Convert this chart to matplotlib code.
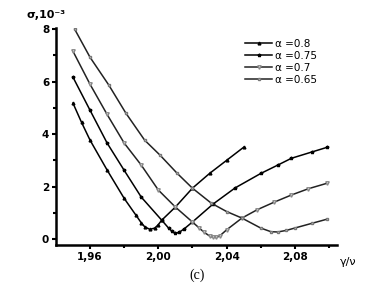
import matplotlib
matplotlib.use("Agg")
import matplotlib.pyplot as plt
from matplotlib.ticker import MultipleLocator

# data (x = gamma/nu, y = sigma in 1e-3)
x_08 = [1.950, 1.955, 1.960, 1.970, 1.980, 1.987, 1.990, 1.992, 1.995, 1.998, 2.000, 2.002,
        2.010, 2.020, 2.030, 2.040, 2.050]
y_08 = [5.18, 4.45, 3.77, 2.63, 1.55, 0.90, 0.62, 0.47, 0.37, 0.42, 0.55, 0.72,
        1.22, 1.94, 2.50, 3.00, 3.50]

x_075 = [1.950, 1.960, 1.970, 1.980, 1.990, 2.002, 2.006, 2.008, 2.010, 2.012, 2.015, 2.020,
         2.032, 2.045, 2.060, 2.070, 2.078, 2.090, 2.099]
y_075 = [6.17, 4.91, 3.66, 2.62, 1.60, 0.72, 0.42, 0.30, 0.22, 0.25, 0.38, 0.65,
         1.33, 1.95, 2.50, 2.82, 3.08, 3.32, 3.50]

x_07 = [1.950, 1.960, 1.970, 1.980, 1.990, 2.000, 2.010, 2.020, 2.024, 2.027, 2.030, 2.032,
        2.034, 2.036, 2.040, 2.049, 2.058, 2.068, 2.078, 2.088, 2.099]
y_07 = [7.16, 5.90, 4.75, 3.66, 2.82, 1.87, 1.22, 0.65, 0.42, 0.25, 0.12, 0.07,
        0.06, 0.12, 0.35, 0.80, 1.12, 1.41, 1.68, 1.92, 2.13]

x_065 = [1.951, 1.960, 1.971, 1.981, 1.992, 2.001, 2.011, 2.020, 2.031, 2.040, 2.049, 2.060,
         2.066, 2.070, 2.075, 2.080, 2.090, 2.099]
y_065 = [8.00, 6.93, 5.87, 4.80, 3.77, 3.20, 2.51, 1.94, 1.37, 1.05, 0.80, 0.42,
         0.28, 0.27, 0.33, 0.42, 0.60, 0.76]

labels = ['α =0.8', 'α =0.75', 'α =0.7', 'α =0.65']
xticks = [1.96, 2.00, 2.04, 2.08]
xticklabels = ['1,96', '2,00', '2,04', '2,08']
yticks = [0, 2, 4, 6, 8]

fig = plt.figure(figsize=(3.74, 2.88), dpi=100)
ax = fig.add_axes([0.150, 0.149, 0.751, 0.754])

ax.plot(x_08, y_08, color='black', lw=1.1, marker='^', ms=2, mfc='black', mec='black', label=labels[0])
ax.plot(x_075, y_075, color='black', lw=1.1, marker='*', ms=2.5, mfc='black', mec='black', label=labels[1])
ax.plot(x_07, y_07, color='#222222', lw=1.1, marker='v', ms=2.5, mfc='white', mec='#888888', label=labels[2])
ax.plot(x_065, y_065, color='#222222', lw=1.1, marker='s', ms=2, mfc='white', mec='#777777', label=labels[3])

ax.set_xlim(1.9401, 2.1047)
ax.set_ylim(-0.23, 8.05)

ax.spines['top'].set_visible(False)
ax.spines['right'].set_visible(False)
ax.spines['left'].set_linewidth(1.8)
ax.spines['bottom'].set_linewidth(1.8)

ax.set_xticks(xticks)
ax.set_xticklabels(xticklabels)
ax.set_yticks(yticks)
ax.xaxis.set_minor_locator(MultipleLocator(0.02))
ax.yaxis.set_minor_locator(MultipleLocator(1))
ax.tick_params(which='major', direction='out', length=3, width=1.5, labelsize=7.5, pad=2)
ax.tick_params(which='minor', direction='out', length=2, width=1.5)
for lab in ax.get_xticklabels() + ax.get_yticklabels():
    lab.set_fontweight('bold')

leg = ax.legend(loc='upper left', bbox_to_anchor=(0.655, 0.975), frameon=False, fontsize=7.5,
                handlelength=2.6, handletextpad=0.3, labelspacing=0.2, borderpad=0)

fig.text(0.072, 0.948, 'σ,10⁻³', fontsize=8, fontweight='bold', va='center', ha='left')
fig.text(0.930, 0.090, 'γ/ν', fontsize=8, va='center', ha='center')
fig.text(0.527, 0.045, '(c)', fontsize=10, family='Liberation Serif', va='center', ha='center')

fig.savefig('out.png', dpi=100)
